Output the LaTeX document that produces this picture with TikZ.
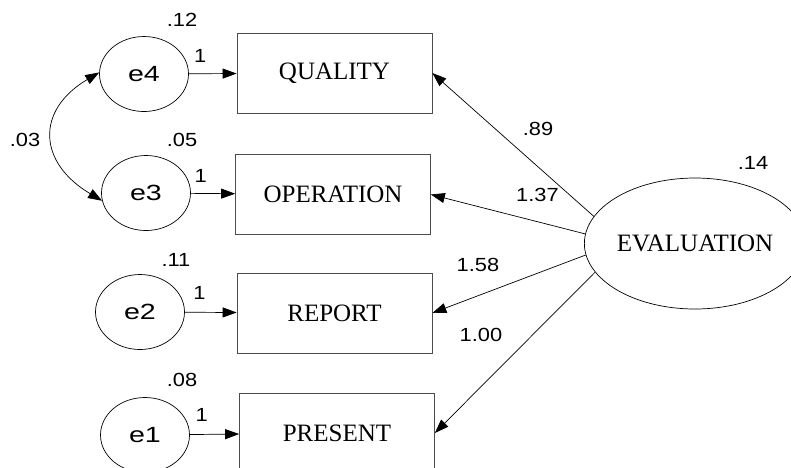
\documentclass[tikz,border=0pt]{standalone}
\usepackage{fontspec}
\setmainfont{Liberation Serif}
\newfontfamily\numfont[FakeStretch=1.15]{Liberation Sans}
\newfontfamily\efont[FakeStretch=1.3]{Liberation Sans}
\usetikzlibrary{shapes, arrows.meta}

\begin{document}
\begin{tikzpicture}[x=1pt, y=-1pt, line width=0.7pt,
  err/.style={ellipse, draw, minimum width=89pt, minimum height=75pt, inner sep=0pt, font=\efont\fontsize{22}{22}\selectfont},
  obs/.style={rectangle, draw=black!70, minimum width=195pt, minimum height=80pt, inner sep=0pt, font=\fontsize{25}{25}\selectfont},
  num/.style={inner sep=0pt, font=\numfont\fontsize{19}{19}\selectfont},
  reg/.style={-{Triangle[length=14pt, width=10pt]}},
  cov/.style={{Triangle[length=14pt, width=10pt]}-{Triangle[length=14pt, width=10pt]}}]
\path[use as bounding box, clip] (0,0) rectangle (791,467);
\node[err] (e4) at (144,74) {e4};
\node[err] (e3) at (146,193) {e3};
\node[err] (e2) at (140,312) {e2};
\node[err] (e1) at (145,435) {e1};
\node[obs] (qual) at (334.5,73) {QUALITY};
\node[obs] (oper) at (333,194.5) {OPERATION};
\node[obs] (rep) at (334.5,313) {REPORT};
\node[obs] (pres) at (337,433) {PRESENT};
\node[ellipse, draw, minimum width=218pt, minimum height=131pt, inner sep=0pt, font=\fontsize{25}{25}\selectfont] (eval) at (695,243.5) {EVALUATION};
\node[num] (v4) at (182,19.5) {.12};
\node[num] (v3) at (182,140) {.05};
\node[num] (v2) at (176,260) {.11};
\node[num] (v1) at (182,380) {.08};
\node[num] (ve) at (753,163) {.14};
\node[num] (c34) at (25,139.5) {.03};
\node[num] (wq) at (538,128.5) {.89};
\node[num] (wo) at (537.5,195) {1.37};
\node[num] (wr) at (478,265) {1.58};
\node[num] (wp) at (481,335) {1.00};
\draw[reg] (e4) -- node[num, pos=0.24, above=11pt] (f4) {1} (qual);
\draw[reg] (e3) -- node[num, pos=0.22, above=11pt] (f3) {1} (oper);
\draw[reg] (e2) -- node[num, pos=0.28, above=12pt] (f2) {1} (rep);
\draw[reg] (e1) -- node[num, pos=0.24, above=13pt] (f1) {1} (pres);
\draw[reg] (eval.165) -- (qual.east);
\draw[reg] (eval.175) -- (oper.east);
\draw[reg] (eval.186) -- (rep.east);
\draw[reg] (eval.196) -- (pres.east);
\draw[cov] (e4.178) .. controls +(-64,38) and +(-64,-38) .. (e3.190);
\end{tikzpicture}
\end{document}
